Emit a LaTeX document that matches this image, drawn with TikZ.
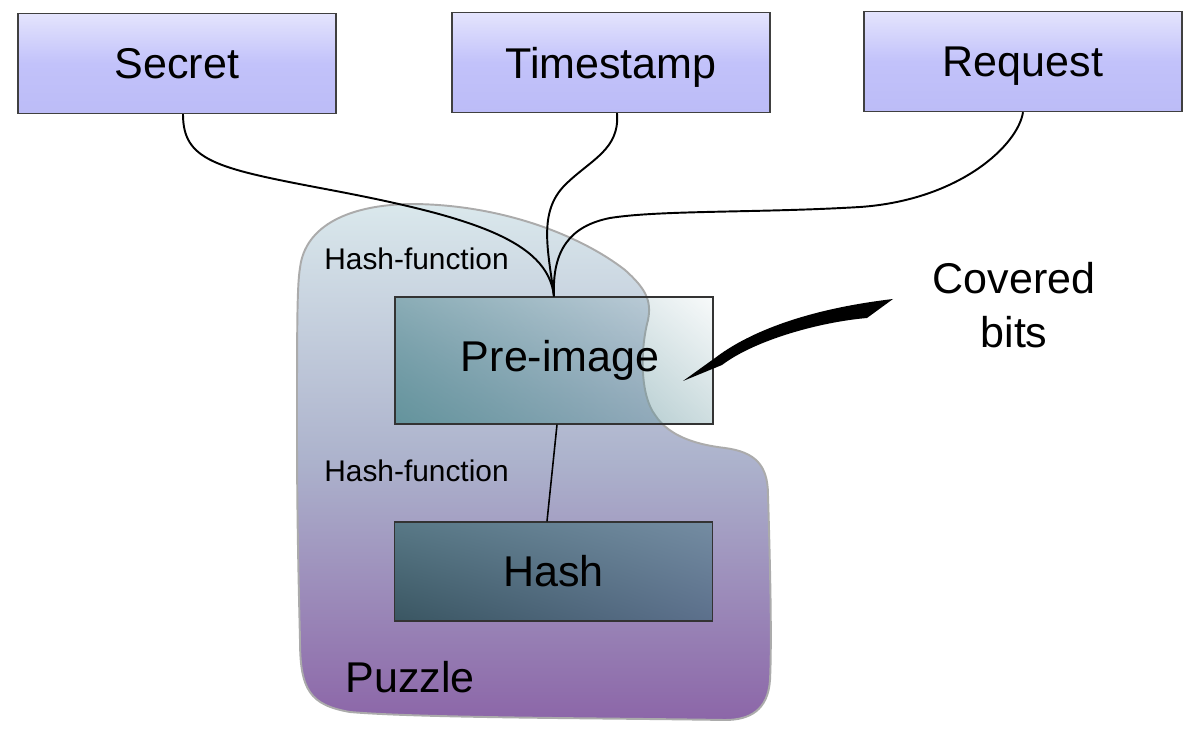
\documentclass[tikz,border=0pt]{standalone}
\usepackage{fontspec}
\setmainfont{Liberation Sans}
\usetikzlibrary{fadings,shadings}
\definecolor{boxtop}{RGB}{228,228,253}
\definecolor{boxmid}{RGB}{194,194,250}
\definecolor{boxbot}{RGB}{188,188,247}
\definecolor{blobtop}{RGB}{218,232,236}
\definecolor{blobmid}{RGB}{172,178,204}
\definecolor{blobbot}{RGB}{140,102,168}
\definecolor{preteal}{RGB}{96,146,154}
\tikzfading[name=prefade, lower left=transparent!10, upper left=transparent!45,
  lower right=transparent!75, upper right=transparent!100]

\begin{document}
\begin{tikzpicture}[x=0.02cm,y=-0.02cm,
  inbox/.style={draw=black!75, line width=0.8pt, top color=boxtop,
    bottom color=boxbot, middle color=boxmid, minimum width=6.36cm,
    minimum height=2cm, text depth=0pt, font=\fontsize{24.5}{29}\selectfont},
  stagebox/.style={draw=black!80, line width=0.8pt, minimum width=6.36cm,
    font=\fontsize{24.5}{29}\selectfont},
  wire/.style={line width=1.1pt},
  hashlbl/.style={anchor=base west, inner sep=0pt, font=\fontsize{17}{20}\selectfont}]
  \useasboundingbox (0,0) rectangle (1200,736);
  % puzzle region
  \draw[black!33, line width=1.1pt, top color=blobtop, bottom color=blobbot,
    middle color=blobmid]
    (297,430) .. controls (297,330) and (297,285) .. (300,268)
    .. controls (305,225) and (350,205) .. (410,204)
    .. controls (500,204) and (580,235) .. (625,270)
    .. controls (645,288) and (652,300) .. (648,320)
    .. controls (640,350) and (640,395) .. (655,415)
    .. controls (670,438) and (700,445) .. (725,448)
    .. controls (755,452) and (768,465) .. (768,495)
    .. controls (770,560) and (772,640) .. (770,680)
    .. controls (768,710) and (750,720) .. (725,720)
    .. controls (600,718) and (420,718) .. (350,712)
    .. controls (310,705) and (300,690) .. (300,640)
    .. controls (298,560) and (297,500) .. cycle;
  % see-through pre-image fill
  \fill[preteal, path fading=prefade] (395,297) rectangle (713,424);
  % inputs
  \node[inbox] (secret) at (177,63.5) {Secret};
  \node[inbox] (stamp) at (611,62.5) {Timestamp};
  \node[inbox] (request) at (1023,61.5) {Request};
  % stages
  \node[stagebox, minimum height=2.54cm] (pre) at (554,360.5) {\hspace{0.25cm}Pre-image};
  \node[stagebox, minimum height=1.98cm, lower left={rgb,255:red,58;green,86;blue,98},
    upper left={rgb,255:red,88;green,120;blue,134},
    upper right={rgb,255:red,116;green,140;blue,162},
    lower right={rgb,255:red,92;green,112;blue,140}] (hash) at (553.5,571.5) {Hash};
  % wires into the pre-image
  \draw[wire] ([xshift=0.12cm]secret.south) .. controls (183,160) and (215,168) .. (320,188)
    .. controls (470,216) and (548,240) .. (pre.north);
  \draw[wire] ([xshift=0.12cm]stamp.south) .. controls (620,150) and (590,160) .. (565,185)
    .. controls (538,212) and (548,250) .. (pre.north);
  \draw[wire] (request.south) .. controls (1018,145) and (960,200) .. (860,207)
    .. controls (760,213) and (660,210) .. (610,218)
    .. controls (570,226) and (552,250) .. (pre.north);
  \draw[wire, line width=0.9pt] ([xshift=0.06cm]pre.south) -- ([xshift=-0.13cm]hash.north);
  % labels
  \node[hashlbl] (hf1) at (324,270) {Hash-function};
  \node[hashlbl] (hf2) at (324,481) {Hash-function};
  \node[anchor=base west, inner sep=0pt, font=\fontsize{24.5}{29}\selectfont] (puzzle) at (345,692) {Puzzle};
  \node[align=center, font=\fontsize{24.5}{31}\selectfont] (cov) at (1014,305) {Covered\\bits};
  % pointer to the covered bits
  \fill (683,381) -- (715,358) .. controls (745,335) and (800,310) .. (893,299)
    -- (867,318) .. controls (820,322) and (755,340) .. (722,365) -- cycle;
\end{tikzpicture}
\end{document}
